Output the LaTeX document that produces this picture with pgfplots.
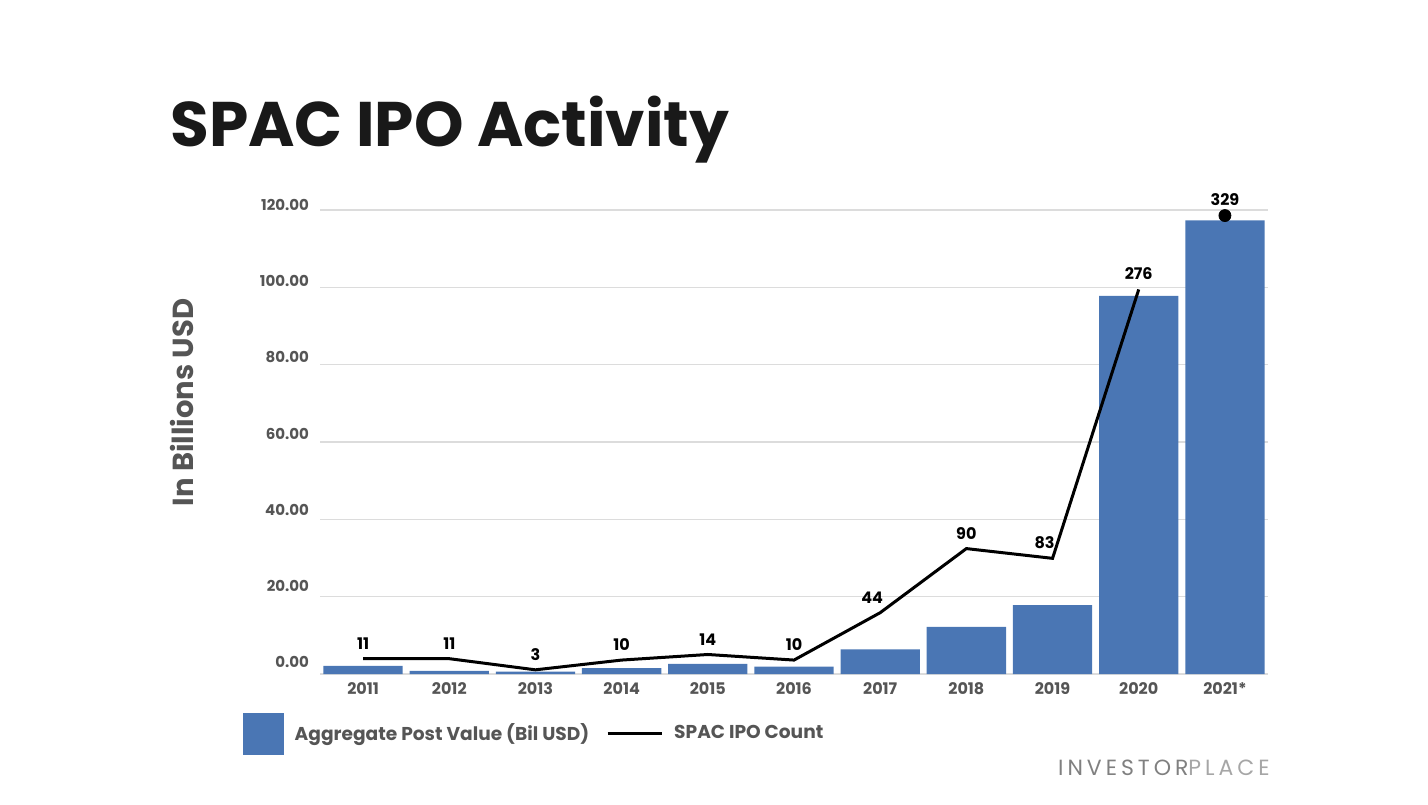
\documentclass[border=0pt]{standalone}
\usepackage{fontspec}
\setmainfont{Poppins}
\usepackage{pgfplots}
\usepackage{pgfplotstable}
\pgfplotsset{compat=1.18}
\definecolor{barblue}{HTML}{4A76B4}
\definecolor{txtgray}{HTML}{555555}
\definecolor{gridgray}{HTML}{DCDCDC}

\pgfplotstableread{
x val
0 2.1
1 0.8
2 0.6
3 1.5
4 2.6
5 1.9
6 6.4
7 12.2
8 17.8
9 97.8
10 117.3
}\valtable

\pgfplotstableread{
x cnt
0 11
1 11
2 3
3 10
4 14
5 10
6 44
7 90
8 83
9 276
}\cnttable

\pgfplotsset{cntlabel/.style={only marks, mark=none, nodes near coords, point meta=explicit symbolic,
  nodes near coords style={font=\fontsize{8}{9}\selectfont\bfseries, text=black, anchor=south, inner sep=1pt, yshift=3.5pt}}}

\begin{document}
\begin{tikzpicture}
\path (0,0) rectangle (714pt,402pt);
\node[anchor=base west, inner sep=0, font=\fontsize{31.5}{36}\selectfont\bfseries, text=black!90] at (85pt,328.5pt) {SPAC IPO Activity};
\node[anchor=base east, inner sep=0, font=\fontsize{11}{12}\selectfont\addfontfeature{LetterSpace=18}] at (635pt,14.5pt) {\textcolor{black!50}{INVESTOR}\textcolor{black!35}{PLACE}};

\begin{axis}[
  at={(160pt,65pt)}, anchor=south west,
  scale only axis, width=474pt, height=232pt,
  xmin=-0.5, xmax=10.5, ymin=0, ymax=120,
  ytick={0,20,...,120},
  xtick={0,...,10},
  xticklabels={2011,2012,2013,2014,2015,2016,2017,2018,2019,2020,2021*},
  ymajorgrids, grid style={gridgray, line width=0.6pt},
  axis line style={draw=none}, major tick length=0pt,
  yticklabel style={font=\fontsize{7.5}{9}\selectfont\bfseries, text=txtgray, xshift=-2pt,
    yshift={(6-0.58*\ticknum)*1pt},
    /pgf/number format/.cd, fixed, fixed zerofill, precision=2, assume math mode=true},
  xticklabel style={font=\fontsize{8}{9}\selectfont\bfseries, text=txtgray, yshift=-0.5pt},
  ylabel={In Billions USD},
  ylabel style={at={(axis description cs:-0.1456,0.585)}, anchor=center, font=\fontsize{14.5}{16}\selectfont\bfseries, text=txtgray},
  legend style={at={(axis description cs:-0.082,-0.129)}, anchor=west, draw=none, fill=none,
    legend columns=2, font=\fontsize{9.3}{11}\selectfont\bfseries, text=txtgray,
    /tikz/every even column/.append style={column sep=6.5pt}, inner sep=0pt},
  legend cell align=left,
]
\addplot[ybar, bar width=0.92, bar shift=0pt, fill=barblue, draw=none,
  legend image code/.code={\fill[barblue] (0pt,-10.5pt) rectangle (20.5pt,10.5pt);}]
  table[x=x, y=val]{\valtable};
\addlegendentry{\hspace{3.5pt}Aggregate Post Value (Bil USD)}
\addlegendimage{legend image code/.code={\draw[black, line width=1.5pt] (0pt,0pt) -- (27pt,0pt);}}
\addlegendentry{\hspace{3.5pt}SPAC IPO Count}
\end{axis}

\begin{axis}[
  at={(160pt,65pt)}, anchor=south west,
  scale only axis, width=474pt, height=232pt,
  xmin=-0.5, xmax=10.5, ymin=0, ymax=333,
  hide axis, clip=false,
]
\addplot[black, line width=1.5pt, line join=miter, mark=none] table[x=x, y=cnt]{\cnttable};
\addplot[cntlabel] coordinates {(0,11)[11] (1,11)[11] (2,3)[3] (3,10)[10] (4,14)[14] (5,10)[10] (7,90)[90] (9,276)[276]};
\addplot[cntlabel, nodes near coords style={xshift=-4pt}] coordinates {(6,44)[44] (8,83)[83]};
\addplot[only marks, mark=*, mark size=3pt, black,
  nodes near coords, point meta=explicit symbolic,
  nodes near coords style={font=\fontsize{8}{9}\selectfont\bfseries, text=black, anchor=south, inner sep=1pt, yshift=4pt}]
  coordinates {(10,329) [329]};
\end{axis}
\end{tikzpicture}
\end{document}
